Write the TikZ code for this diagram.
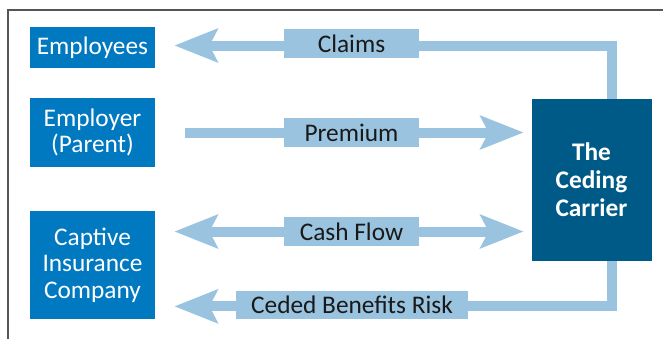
\documentclass[tikz,border=0pt]{standalone}
\usepackage{fontspec}
\setmainfont{Carlito}
\usetikzlibrary{arrows.meta,calc}

\definecolor{partyblue}{RGB}{0,121,193}
\definecolor{carrierblue}{RGB}{0,90,135}
\definecolor{flowblue}{RGB}{153,195,223}
\definecolor{framegray}{RGB}{85,85,85}
\definecolor{labeltext}{RGB}{25,25,25}

\tikzset{every picture/.style={line width=0.55pt}}
\tikzset{
  party/.style={fill=partyblue, text=white, align=center, inner sep=0pt,
    minimum width=93.75pt, font=\fontsize{19}{20}\selectfont},
  carrierbox/.style={fill=carrierblue, text=white, align=center, inner sep=0pt,
    minimum width=90pt, minimum height=121.5pt, font=\fontsize{19}{21}\selectfont\bfseries},
  flowlabel/.style={fill=flowblue, text=labeltext, inner sep=0pt,
    minimum width=101.25pt, minimum height=21.75pt, font=\fontsize{19}{20}\selectfont},
  flow/.style={draw=flowblue, line width=7.5pt, line join=miter,
    arrows={-Stealth[length=32.25pt, width=24.75pt, inset=6pt]}},
}

\begin{document}
\begin{tikzpicture}[x=0.75pt,y=0.75pt,yscale=-1,xscale=1]
\useasboundingbox (0,0) rectangle (663,339);
%Straight Lines (frame)
\draw [framegray, line width=1.1pt] (8,339) -- (8,10) -- (663,10) ;
%Shape: Rectangle
\node [party, minimum height=30.75pt] (employees) at (92.5,47.5) {Employees};
%Shape: Rectangle
\node [party, minimum height=51.75pt] (employer) at (92.5,132.5) {Employer\\(Parent)};
%Shape: Rectangle
\node [party, minimum height=81pt] (captive) at (92.5,265) {Captive\\Insurance\\Company};
%Shape: Rectangle
\node [carrierbox] (carrier) at (591.5,180) {The\\Ceding\\Carrier};
% Flow ends
\coordinate (claimsend) at ($(employees.east)+(19,-2)$);
\coordinate (cededend) at ($(captive.south east)+(19,-13)$);
%Straight Lines
\draw [flow] ($(carrier.north)+(20.5,0)$) |- (claimsend) ;
%Straight Lines
\draw [flow] ($(employer.east)+(30,0)$) -- ($(carrier.west |- employer.east)+(-7.5,0)$) ;
%Straight Lines
\draw [flow, arrows={Stealth[length=32.25pt, width=24.75pt, inset=6pt]-Stealth[length=32.25pt, width=24.75pt, inset=6pt]}]
  ($(captive.east)+(19,-33.5)$) -- ($(carrier.west |- captive.east)+(-7.5,-33.5)$) ;
%Straight Lines
\draw [flow] ($(carrier.south)+(20.5,0)$) |- (cededend) ;
% Text Node
\node [flowlabel] (claims) at (351.5,43.5) {Claims};
% Text Node
\node [flowlabel] (premium) at (351.5,132.5) {Premium};
% Text Node
\node [flowlabel] (cashflow) at (351.5,231.5) {Cash Flow};
% Text Node
\node [flowlabel, minimum width=174pt, minimum height=21pt] (ceded) at (352,305) {Ceded Benefits Risk};
\end{tikzpicture}
\end{document}
